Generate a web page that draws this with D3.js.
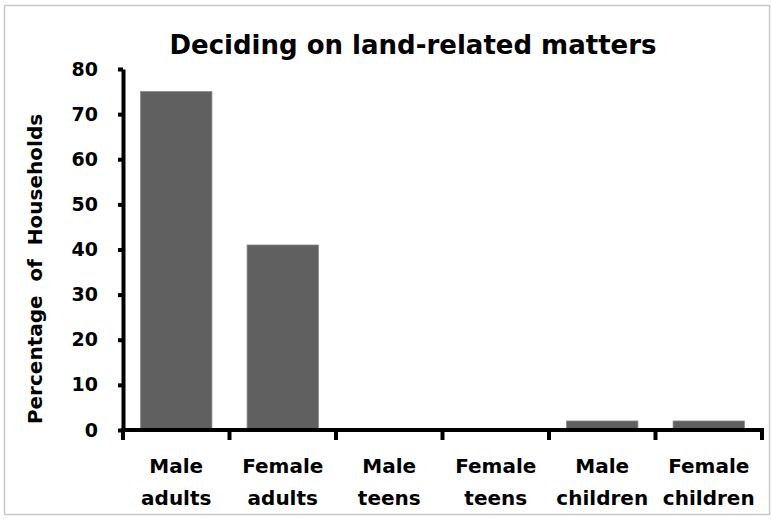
<!DOCTYPE html>
<html>
<head>
<meta charset="utf-8">
<script src="https://cdn.jsdelivr.net/npm/d3@7"></script>
<style>
  body { margin: 0; background: #fff; }
  svg { display: block; }
  svg text { font-family: "DejaVu Sans", sans-serif; font-weight: bold; fill: #000; }
</style>
</head>
<body>
<div id="chart"></div>
<script>
// Chart data
const categories = [["Male", "adults"], ["Female", "adults"], ["Male", "teens"], ["Female", "teens"], ["Male", "children"], ["Female", "children"]];
const values = [75, 41, 0, 0, 2, 2];
const yTicks = [0, 10, 20, 30, 40, 50, 60, 70, 80];

const width = 772, height = 520;
const plotLeft = 123, plotRight = 762;

const svg = d3.select("#chart").append("svg")
  .attr("width", width)
  .attr("height", height);

// outer frame
svg.append("rect")
  .attr("x", 4.5).attr("y", 5.5)
  .attr("width", 765).attr("height", 509)
  .attr("fill", "#fff")
  .attr("stroke", "#c8c8c8")
  .attr("stroke-width", 1.5);

const x = d3.scaleBand()
  .domain(d3.range(categories.length))
  .range([plotLeft, plotRight])
  .paddingInner(0.33)
  .paddingOuter(0.165);

const y = d3.scaleLinear().domain([0, 80]).range([430, 69]);

// bars
svg.selectAll(".bar")
  .data(values)
  .enter()
  .append("rect")
  .attr("class", "bar")
  .attr("x", (d, i) => x(i))
  .attr("y", d => y(d))
  .attr("width", x.bandwidth())
  .attr("height", d => y(0) - y(d))
  .attr("fill", "#606060")
  .attr("stroke", "#8a8a8a")
  .attr("stroke-width", 0.8);

// y axis
const yAxis = svg.append("g")
  .attr("transform", "translate(" + plotLeft + ",0)")
  .call(d3.axisLeft(y).tickValues(yTicks).tickSize(5).tickSizeOuter(0).tickPadding(20));
yAxis.select(".domain").attr("stroke", "#000").attr("stroke-width", 4);
yAxis.selectAll(".tick line").attr("stroke", "#000").attr("stroke-width", 4);
yAxis.selectAll(".tick text")
  .style("font-size", "19px")
  .style("font-family", "'DejaVu Sans', sans-serif")
  .style("font-weight", "bold")
  .attr("fill", "#000");

// x axis (line with ticks at band boundaries)
const bounds = d3.range(categories.length + 1).map(i => plotLeft + i * (plotRight - plotLeft) / categories.length);
svg.append("line")
  .attr("x1", plotLeft - 2).attr("x2", plotRight + 2)
  .attr("y1", y(0)).attr("y2", y(0))
  .attr("stroke", "#000").attr("stroke-width", 4);
svg.selectAll(".xtick")
  .data(bounds)
  .enter()
  .append("line")
  .attr("class", "xtick")
  .attr("x1", d => d).attr("x2", d => d)
  .attr("y1", y(0)).attr("y2", y(0) + 10)
  .attr("stroke", "#000").attr("stroke-width", 4);

// x labels
const xl = svg.selectAll(".xlabel")
  .data(categories)
  .enter()
  .append("text")
  .attr("class", "xlabel")
  .attr("text-anchor", "middle")
  .style("font-size", "20px");
xl.append("tspan")
  .attr("x", (d, i) => x(i) + x.bandwidth() / 2)
  .attr("y", 473)
  .text(d => d[0]);
xl.append("tspan")
  .attr("x", (d, i) => x(i) + x.bandwidth() / 2)
  .attr("y", 505)
  .text(d => d[1]);

// title
svg.append("text")
  .attr("x", 413).attr("y", 54)
  .attr("text-anchor", "middle")
  .style("font-size", "26px")
  .text("Deciding on land-related matters");

// y axis title
svg.append("text")
  .attr("transform", "translate(42,269) rotate(-90)")
  .attr("text-anchor", "middle")
  .style("font-size", "20px")
  .style("white-space", "pre")
  .text("Percentage  of  Households");
</script>
</body>
</html>
